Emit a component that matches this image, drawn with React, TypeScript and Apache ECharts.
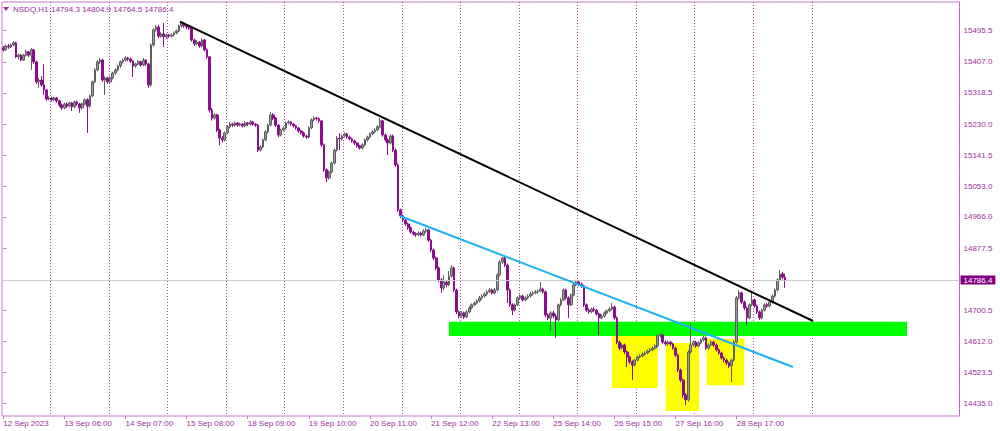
import React, { useEffect, useRef } from "react";
import * as echarts from "echarts";

const opens = [
  15446, 15441, 15452, 15449, 15455, 15461, 15421, 15426, 15412, 15426,
  15435, 15426, 15441, 15407, 15350, 15355, 15341, 15327, 15301, 15304,
  15299, 15304, 15296, 15284, 15276, 15287, 15281, 15290, 15279, 15293,
  15287, 15276, 15287, 15299, 15281, 15310, 15350, 15384, 15407, 15412,
  15355, 15361, 15350, 15361, 15375, 15384, 15395, 15407, 15412, 15418,
  15415, 15409, 15395, 15401, 15407, 15398, 15412, 15401, 15341, 15455,
  15498, 15506, 15480, 15486, 15478, 15483, 15480, 15483, 15489, 15495,
  15509, 15517, 15509, 15506, 15503, 15469, 15458, 15463, 15452, 15469,
  15441, 15421, 15270, 15247, 15256, 15213, 15190, 15185, 15205, 15222,
  15230, 15227, 15233, 15227, 15230, 15225, 15233, 15230, 15236, 15230,
  15227, 15156, 15165, 15185, 15208, 15227, 15256, 15247, 15227, 15199,
  15213, 15219, 15233, 15236, 15230, 15225, 15219, 15210, 15205, 15196,
  15193, 15219, 15242, 15247, 15245, 15239, 15171, 15100, 15077, 15094,
  15119, 15156, 15190, 15188, 15196, 15202, 15193, 15188, 15182, 15176,
  15168, 15162, 15171, 15185, 15193, 15202, 15208, 15213, 15222, 15239,
  15199, 15185, 15176, 15196, 15156, 15114, 14986, 14969, 14957, 14946,
  14935, 14923, 14918, 14915, 14920, 14915, 14926, 14929, 14900, 14872,
  14849, 14821, 14787, 14764, 14781, 14773, 14798, 14821, 14758, 14696,
  14684, 14693, 14682, 14696, 14707, 14716, 14721, 14727, 14736, 14741,
  14747, 14753, 14758, 14750, 14758, 14801, 14838, 14849, 14829, 14758,
  14716, 14701, 14716, 14736, 14741, 14730, 14736, 14741, 14747, 14750,
  14753, 14755, 14761, 14753, 14687, 14679, 14693, 14684, 14673, 14716,
  14730, 14758, 14736, 14716, 14744, 14773, 14781, 14775, 14770, 14716,
  14701, 14696, 14704, 14701, 14690, 14679, 14684, 14693, 14699, 14704,
  14710, 14679, 14610, 14593, 14602, 14582, 14568, 14554, 14545, 14559,
  14568, 14571, 14576, 14579, 14585, 14588, 14593, 14599, 14628, 14630,
  14610, 14605, 14610, 14605, 14593, 14573, 14531, 14502, 14460, 14446,
  14582, 14602, 14610, 14599, 14608, 14616, 14622, 14593, 14602, 14610,
  14602, 14588, 14579, 14565, 14559, 14551, 14542, 14559, 14610, 14736,
  14750, 14724, 14707, 14679, 14716, 14730, 14713, 14696, 14679, 14701,
  14716, 14713, 14724, 14741, 14758, 14787, 14804, 14794.3,
];

const closes = [
  15441, 15452, 15449, 15455, 15461, 15421, 15426, 15412, 15426, 15435,
  15426, 15441, 15407, 15350, 15355, 15341, 15327, 15301, 15304, 15299,
  15304, 15296, 15284, 15276, 15287, 15281, 15290, 15279, 15293, 15287,
  15276, 15287, 15299, 15281, 15310, 15350, 15384, 15407, 15412, 15355,
  15361, 15350, 15361, 15375, 15384, 15395, 15407, 15412, 15418, 15415,
  15409, 15395, 15401, 15407, 15398, 15412, 15401, 15341, 15455, 15498,
  15506, 15480, 15486, 15478, 15483, 15480, 15483, 15489, 15495, 15509,
  15517, 15509, 15506, 15503, 15469, 15458, 15463, 15452, 15469, 15441,
  15421, 15270, 15247, 15256, 15213, 15190, 15185, 15205, 15222, 15230,
  15227, 15233, 15227, 15230, 15225, 15233, 15230, 15236, 15230, 15227,
  15156, 15165, 15185, 15208, 15227, 15256, 15247, 15227, 15199, 15213,
  15219, 15233, 15236, 15230, 15225, 15219, 15210, 15205, 15196, 15193,
  15219, 15242, 15247, 15245, 15239, 15171, 15100, 15077, 15094, 15119,
  15156, 15190, 15188, 15196, 15202, 15193, 15188, 15182, 15176, 15168,
  15162, 15171, 15185, 15193, 15202, 15208, 15213, 15222, 15239, 15199,
  15185, 15176, 15196, 15156, 15114, 14986, 14969, 14957, 14946, 14935,
  14923, 14918, 14915, 14920, 14915, 14926, 14929, 14900, 14872, 14849,
  14821, 14787, 14764, 14781, 14773, 14798, 14821, 14758, 14696, 14684,
  14693, 14682, 14696, 14707, 14716, 14721, 14727, 14736, 14741, 14747,
  14753, 14758, 14750, 14758, 14801, 14838, 14849, 14829, 14758, 14716,
  14701, 14716, 14736, 14741, 14730, 14736, 14741, 14747, 14750, 14753,
  14755, 14761, 14753, 14687, 14679, 14693, 14684, 14673, 14716, 14730,
  14758, 14736, 14716, 14744, 14773, 14781, 14775, 14770, 14716, 14701,
  14696, 14704, 14701, 14690, 14679, 14684, 14693, 14699, 14704, 14710,
  14679, 14610, 14593, 14602, 14582, 14568, 14554, 14545, 14559, 14568,
  14571, 14576, 14579, 14585, 14588, 14593, 14599, 14628, 14630, 14610,
  14605, 14610, 14605, 14593, 14573, 14531, 14502, 14460, 14446, 14582,
  14602, 14610, 14599, 14608, 14616, 14622, 14593, 14602, 14610, 14602,
  14588, 14579, 14565, 14559, 14551, 14542, 14559, 14610, 14736, 14750,
  14724, 14707, 14679, 14716, 14730, 14713, 14696, 14679, 14701, 14716,
  14713, 14724, 14741, 14758, 14787, 14804, 14794.3, 14786.4,
];

const lows = [
  15436, 15438, 15444, 15446, 15451, 15417, 15414, 15408, 15409, 15422,
  15420, 15384, 15401, 15344, 15333, 15336, 15313, 15296, 15297, 15294,
  15295, 15291, 15279, 15270, 15272, 15276, 15277, 15267, 15275, 15282,
  15262, 15271, 15283, 15205, 15276, 15306, 15346, 15380, 15401, 15350,
  15313, 15344, 15346, 15357, 15370, 15380, 15390, 15402, 15408, 15409,
  15404, 15364, 15390, 15397, 15393, 15394, 15396, 15333, 15336, 15450,
  15493, 15474, 15475, 15449, 15473, 15475, 15476, 15479, 15485, 15491,
  15505, 15504, 15500, 15498, 15464, 15452, 15454, 15447, 15448, 15436,
  15415, 15262, 15240, 15242, 15207, 15170, 15178, 15181, 15201, 15218,
  15222, 15223, 15222, 15223, 15220, 15221, 15225, 15226, 15225, 15222,
  15150, 15152, 15161, 15181, 15204, 15223, 15241, 15222, 15193, 15195,
  15209, 15215, 15229, 15225, 15220, 15214, 15205, 15200, 15191, 15188,
  15189, 15215, 15238, 15240, 15234, 15165, 15094, 15065, 15072, 15090,
  15115, 15152, 15156, 15183, 15192, 15188, 15183, 15177, 15171, 15163,
  15157, 15158, 15167, 15181, 15189, 15198, 15204, 15209, 15218, 15194,
  15180, 15142, 15172, 15150, 15108, 14980, 14962, 14951, 14940, 14929,
  14918, 14913, 14909, 14911, 14910, 14911, 14921, 14895, 14866, 14843,
  14815, 14780, 14750, 14758, 14766, 14769, 14794, 14752, 14690, 14678,
  14679, 14676, 14678, 14692, 14703, 14712, 14717, 14723, 14731, 14737,
  14742, 14749, 14745, 14746, 14754, 14797, 14833, 14824, 14721, 14710,
  14687, 14697, 14712, 14731, 14725, 14726, 14732, 14737, 14742, 14746,
  14748, 14751, 14748, 14681, 14673, 14642, 14678, 14622, 14669, 14712,
  14726, 14731, 14679, 14712, 14740, 14769, 14770, 14764, 14710, 14696,
  14690, 14692, 14696, 14685, 14630, 14675, 14680, 14689, 14695, 14700,
  14674, 14604, 14587, 14589, 14576, 14539, 14548, 14502, 14541, 14555,
  14564, 14567, 14572, 14575, 14581, 14584, 14589, 14595, 14623, 14605,
  14600, 14600, 14599, 14588, 14567, 14525, 14496, 14452, 14431, 14441,
  14577, 14597, 14594, 14595, 14604, 14612, 14588, 14589, 14598, 14596,
  14583, 14574, 14560, 14553, 14545, 14536, 14497, 14555, 14606, 14731,
  14718, 14701, 14659, 14675, 14712, 14708, 14690, 14673, 14675, 14697,
  14708, 14709, 14720, 14737, 14754, 14783, 14789, 14764.5,
];

const highs = [
  15452, 15456, 15458, 15459, 15466, 15464, 15431, 15429, 15430, 15441,
  15438, 15446, 15444, 15410, 15361, 15366, 15400, 15330, 15309, 15308,
  15308, 15307, 15299, 15288, 15291, 15292, 15294, 15293, 15297, 15297,
  15290, 15291, 15303, 15303, 15314, 15354, 15389, 15412, 15418, 15415,
  15366, 15365, 15366, 15379, 15389, 15399, 15411, 15416, 15423, 15421,
  15419, 15412, 15405, 15412, 15410, 15418, 15415, 15404, 15459, 15502,
  15512, 15512, 15491, 15517, 15487, 15486, 15488, 15493, 15499, 15513,
  15523, 15520, 15513, 15511, 15506, 15473, 15468, 15466, 15474, 15472,
  15445, 15424, 15276, 15261, 15259, 15217, 15196, 15209, 15227, 15235,
  15234, 15237, 15236, 15234, 15233, 15238, 15236, 15241, 15239, 15233,
  15230, 15170, 15189, 15212, 15231, 15264, 15261, 15250, 15230, 15217,
  15223, 15237, 15241, 15239, 15233, 15228, 15222, 15213, 15208, 15200,
  15223, 15246, 15252, 15251, 15249, 15242, 15175, 15104, 15098, 15123,
  15160, 15196, 15204, 15201, 15206, 15205, 15197, 15191, 15185, 15179,
  15171, 15175, 15189, 15197, 15206, 15212, 15218, 15227, 15247, 15242,
  15203, 15189, 15201, 15200, 15160, 15118, 14990, 14973, 14962, 14950,
  14939, 14927, 14922, 14925, 14924, 14931, 14935, 14932, 14904, 14876,
  14853, 14825, 14792, 14800, 14786, 14812, 14829, 14825, 14762, 14700,
  14698, 14697, 14701, 14712, 14720, 14726, 14732, 14741, 14746, 14752,
  14758, 14763, 14762, 14764, 14806, 14843, 14852, 14852, 14833, 14762,
  14720, 14720, 14740, 14746, 14745, 14741, 14746, 14752, 14755, 14758,
  14760, 14781, 14765, 14757, 14692, 14698, 14700, 14690, 14720, 14735,
  14763, 14762, 14740, 14748, 14777, 14787, 14785, 14780, 14773, 14720,
  14706, 14708, 14709, 14705, 14694, 14689, 14697, 14703, 14709, 14721,
  14714, 14683, 14614, 14607, 14606, 14586, 14572, 14558, 14563, 14572,
  14576, 14581, 14584, 14589, 14593, 14598, 14604, 14632, 14636, 14634,
  14615, 14615, 14614, 14609, 14597, 14577, 14535, 14506, 14465, 14587,
  14664, 14615, 14614, 14613, 14621, 14627, 14626, 14607, 14615, 14614,
  14606, 14592, 14583, 14569, 14563, 14555, 14563, 14615, 14741, 14758,
  14754, 14728, 14711, 14720, 14750, 14734, 14717, 14700, 14705, 14720,
  14721, 14728, 14746, 14763, 14792, 14815, 14810, 14804.9,
];

const dayNames = [
  "12 Sep", "13 Sep", "14 Sep", "15 Sep", "18 Sep", "19 Sep", "20 Sep",
  "21 Sep", "22 Sep", "25 Sep", "26 Sep", "27 Sep", "28 Sep", "29 Sep",
  "02 Oct", "03 Oct", "04 Oct",
];
const SLOT_COUNT = 376;
const xTickLabels = [
  "12 Sep 2023", "13 Sep 06:00", "14 Sep 07:00", "15 Sep 08:00", "18 Sep 09:00",
  "19 Sep 10:00", "20 Sep 11:00", "21 Sep 12:00", "22 Sep 13:00", "25 Sep 14:00",
  "26 Sep 15:00", "27 Sep 16:00", "28 Sep 17:00",
];
const X_LABEL_STEP = 24;
const daySeparators = [19, 42, 65, 88, 111, 134, 157, 180, 203, 226, 249, 272, 295, 318];
const yTickValues = [
  15495.5, 15407.0, 15318.5, 15230.0, 15141.5, 15053.0, 14966.0, 14877.5,
  14700.5, 14612.0, 14523.5, 14435.0,
];
const Y_MIN = 14400;
const Y_MAX = 15577;
const currentPrice = 14786.4;
const headerSymbol = "NSDQ,H1";
const headerOhlc = "14794.3 14804.9 14764.5 14786.4";

// trend lines & zones in (bar index, price) space
const blackTrend = [[69.4, 15521.0], [318.0, 14670.1]];
const blueTrend = [[155.8, 14968.6], [310.1, 14539.3]];
const greenZone = [[175.0, 14668.1], [354.9, 14627.4]];
const yellowZones = [
  [[239.0, 14627.4], [257.0, 14479.6]],
  [[260.1, 14607.5], [273.2, 14414.2]],
  [[276.2, 14619.8], [291.0, 14487.3]],
];

const TEXT = "#9a2f9a";
const FRAME = "#c27ac2";
const FONT = '"Liberation Sans", Arial, sans-serif';

function buildCategories(): string[] {
  const out: string[] = [];
  for (let d = 0; d < dayNames.length && out.length < SLOT_COUNT; d++) {
    const start = d === 0 ? 5 : 1;
    for (let h = start; h <= 23 && out.length < SLOT_COUNT; h++) {
      out.push(dayNames[d] + " " + String(h).padStart(2, "0") + ":00");
    }
  }
  return out;
}

export default function App() {
  const ref = useRef<HTMLDivElement>(null);
  useEffect(() => {
    if (!ref.current) return;
    const chart = echarts.init(ref.current, null, { renderer: "svg" });
    const categories = buildCategories();
    const candles = closes.map((c, i) => [opens[i], c, lows[i], highs[i]]);
    const lastLabelIdx = (xTickLabels.length - 1) * X_LABEL_STEP;

    const option: any = {
      animation: false,
      backgroundColor: "#ffffff",
      grid: {
        left: 2,
        top: 2,
        right: 40.5,
        bottom: 15,
        show: true,
        borderColor: FRAME,
        borderWidth: 1,
        backgroundColor: "#ffffff",
      },
      xAxis: [
        {
          type: "category",
          data: categories,
          boundaryGap: true,
          axisLine: { show: false },
          axisTick: {
            show: true,
            alignWithLabel: true,
            length: 3,
            interval: (idx: number) => idx % X_LABEL_STEP === 0 && idx <= lastLabelIdx,
            lineStyle: { color: FRAME },
          },
          axisLabel: {
            show: true,
            interval: (idx: number) => idx % X_LABEL_STEP === 0 && idx <= lastLabelIdx,
            formatter: (_v: string, idx: number) =>
              idx % X_LABEL_STEP === 0 && xTickLabels[idx / X_LABEL_STEP] ? xTickLabels[idx / X_LABEL_STEP] : "",
            align: "left",
            margin: 3,
            color: TEXT,
            fontSize: 8,
            fontFamily: FONT,
          },
          splitLine: {
            show: true,
            interval: (idx: number) => daySeparators.indexOf(idx) >= 0,
            lineStyle: { color: "#b548b5", type: [1, 2], width: 1 },
          },
        },
        {
          type: "value",
          min: -0.5,
          max: SLOT_COUNT - 0.5,
          show: false,
        },
      ],
      yAxis: {
        type: "value",
        position: "right",
        min: Y_MIN,
        max: Y_MAX,
        axisLine: { show: false },
        splitLine: { show: false },
        axisTick: {
          show: true,
          length: 3,
          customValues: yTickValues,
          lineStyle: { color: FRAME },
        },
        axisLabel: {
          show: true,
          customValues: yTickValues,
          formatter: (v: number) => v.toFixed(1),
          margin: 4,
          color: TEXT,
          fontSize: 8,
          fontFamily: FONT,
        },
      },
      series: [
        {
          type: "line",
          xAxisIndex: 1,
          data: [],
          z: 1,
          silent: true,
          markArea: {
            silent: true,
            data: [
              [
                { coord: greenZone[0], itemStyle: { color: "#00ff00", opacity: 1 } },
                { coord: greenZone[1] },
              ],
              ...yellowZones.map((z) => [
                { coord: z[0], itemStyle: { color: "#ffff00", opacity: 1 } },
                { coord: z[1] },
              ]),
            ],
          },
        },
        {
          type: "candlestick",
          data: candles,
          z: 3,
          barWidth: 2.2,
          silent: true,
          itemStyle: {
            color: "#9a9a9a",
            color0: "#8a0f8a",
            borderColor: "#5e5e5e",
            borderColor0: "#8a0f8a",
            borderWidth: 1,
          },
          markLine: {
            silent: true,
            symbol: ["none", "none"],
            lineStyle: { color: "#cccccc", type: "solid", width: 1 },
            label: {
              show: true,
              position: "end",
              distance: 1,
              formatter: () => currentPrice.toFixed(1),
              color: "#ffffff",
              backgroundColor: "#800080",
              padding: [1, 3, 0, 3],
              fontSize: 8,
              fontFamily: FONT,
            },
            data: [{ yAxis: currentPrice }],
          },
        },
        {
          type: "line",
          xAxisIndex: 1,
          data: blackTrend,
          z: 5,
          symbol: "none",
          silent: true,
          lineStyle: { color: "#000000", width: 2 },
        },
        {
          type: "line",
          xAxisIndex: 1,
          data: blueTrend,
          z: 5,
          symbol: "none",
          silent: true,
          lineStyle: { color: "#1ab3f2", width: 2 },
        },
      ],
      graphic: [
        {
          type: "polygon",
          shape: { points: [[3, 7], [9, 7], [6, 11]] },
          style: { fill: TEXT },
          silent: true,
        },
        {
          type: "text",
          x: 13,
          y: 9,
          silent: true,
          style: { text: headerSymbol, fill: TEXT, font: "8px " + FONT, verticalAlign: "middle" },
        },
        {
          type: "text",
          x: 51,
          y: 9,
          silent: true,
          style: { text: headerOhlc, fill: TEXT, font: "8px " + FONT, verticalAlign: "middle" },
        },
      ],
    };
    chart.setOption(option);
    return () => chart.dispose();
  }, []);

  return (
    <div
      ref={ref}
      style={{ position: "fixed", left: 0, top: 0, width: 1000, height: 431, background: "#fff" }}
    />
  );
}
